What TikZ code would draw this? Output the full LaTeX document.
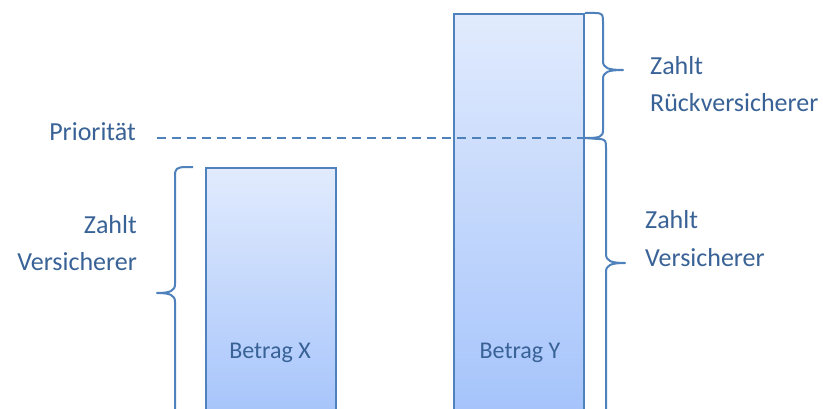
\documentclass[tikz,border=0pt]{standalone}
\usepackage{fontspec}
\setmainfont{Carlito}
\definecolor{txt}{RGB}{57,98,150}
\definecolor{edge}{RGB}{79,129,189}
\definecolor{filltop}{RGB}{225,235,253}
\definecolor{fillbot}{RGB}{163,194,251}
\begin{document}
\begin{tikzpicture}[x=1pt,y=1pt,
  bar/.style={draw=edge, line width=2.2pt, top color=filltop, bottom color=fillbot, minimum width=130pt, inner sep=0pt},
  brace/.style={draw=edge, line width=2pt, line join=round},
  lbl/.style={text=txt, font=\fontsize{26}{30}\selectfont, inner sep=0pt},
  barlbl/.style={text=txt, font=\fontsize{24}{28}\selectfont, inner sep=0pt}]
\useasboundingbox (0,0) rectangle (823,408);
\clip (0,0) rectangle (823,408);
\fill[white] (0,0) rectangle (823,408);

% the two bars run past the lower edge
\node[bar, minimum height=261pt, anchor=north west] (barX) at (205,241) {};
\node[bar, minimum height=415pt, anchor=north west] (barY) at (453,395) {};

\node[barlbl, anchor=base] (betragX) at (270,50) {Betrag X};
\node[barlbl, anchor=base] (betragY) at (520,50) {Betrag Y};

% priority level
\node[lbl, anchor=base east] (prio) at (136,268) {Priorität};
\coordinate (prioStart) at (157,270);
\coordinate (prioEnd) at (barY.east |- prioStart);
\draw[draw=edge, line width=2pt, dash pattern=on 9pt off 6pt] (prioStart) -- (prioEnd);

% left brace beside bar X
\draw[brace] (barX.north west) ++(-12,0) -- (187,241)
  .. controls (176,241) and (175,239) .. (175,232) -- (175,124)
  .. controls (175,117) and (170,115) .. (157,115)
  .. controls (170,115) and (175,113) .. (175,106) -- (175,-12);
\node[lbl, anchor=base east] (zL1) at (137,175) {Zahlt};
\node[lbl, anchor=base east] (zL2) at (137,138) {Versicherer};

% upper right brace: reinsurer share
\draw[brace] (barY.north east) -- (595,395)
  .. controls (603,395) and (603,393) .. (603,386) -- (603,347)
  .. controls (603,340) and (608,338) .. (623,338)
  .. controls (608,338) and (603,336) .. (603,329) -- (603,278)
  .. controls (603,271) and (600,270) .. (prioEnd);
\node[lbl, anchor=base west] (zR1) at (650,333) {Zahlt};
\node[lbl, anchor=base west] (zR2) at (650,296) {Rückversicherer};

% lower right brace: insurer share
\draw[brace] (prioEnd) -- (598,269)
  .. controls (606,269) and (606,267) .. (606,260) -- (606,154)
  .. controls (606,147) and (611,145) .. (625,145)
  .. controls (611,145) and (606,143) .. (606,136) -- (606,-12);
\node[lbl, anchor=base west] (zR3) at (645,180) {Zahlt};
\node[lbl, anchor=base west] (zR4) at (645,142) {Versicherer};
\end{tikzpicture}
\end{document}
